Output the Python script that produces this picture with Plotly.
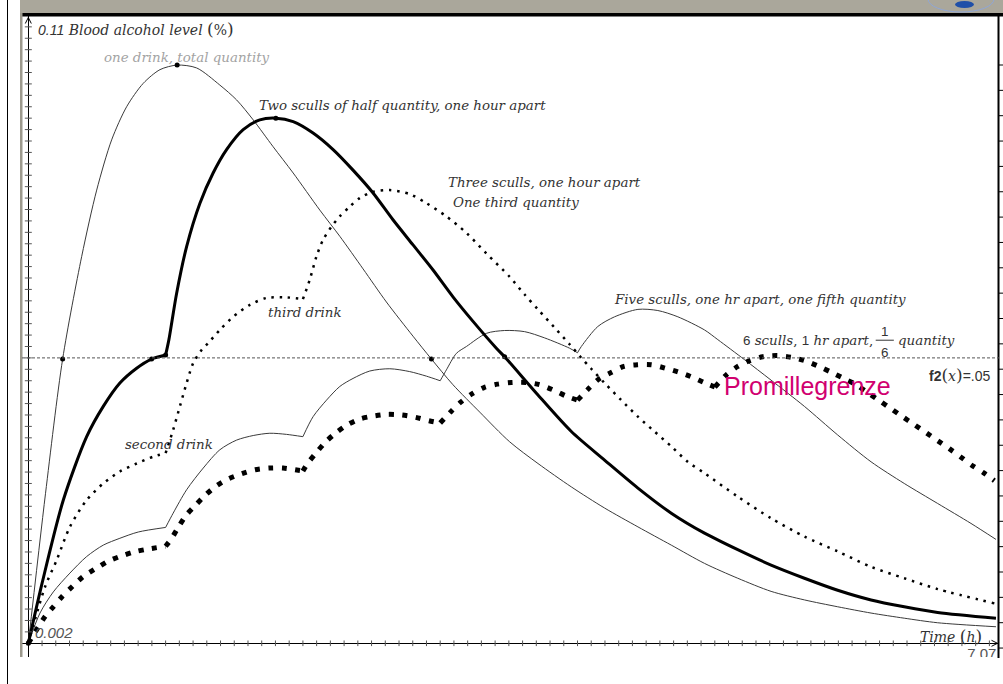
import plotly.graph_objects as go

# Blood alcohol level (%) against time (h) for different drinking patterns
t_one = [0, 0.125, 0.25, 0.389, 0.498, 0.607, 0.716, 0.837, 0.959, 1.084, 1.226,
         1.395, 1.517, 1.638, 1.783, 1.929, 2.123, 2.269, 2.438, 2.608, 2.802,
         2.936, 3.093, 3.288, 3.506, 3.712, 3.955, 4.197, 4.440, 4.683, 4.925,
         5.167, 5.410, 5.653, 5.895, 6.138, 6.380, 6.623, 7.048]
c_one = [0, 0.0262, 0.0498, 0.0678, 0.0794, 0.0882, 0.0940, 0.0981, 0.1005, 0.1013, 0.1008,
         0.0978, 0.0952, 0.0917, 0.0870, 0.0824, 0.0759, 0.0713, 0.0656, 0.0598, 0.0538,
         0.0498, 0.0453, 0.0405, 0.0353, 0.0315, 0.0274, 0.0237, 0.0204, 0.0172, 0.0140,
         0.0114, 0.0091, 0.0076, 0.0064, 0.0053, 0.0044, 0.0036, 0.0029]

t_two = [0, 0.1, 0.255, 0.425, 0.546, 0.667, 0.789, 0.898, 1.0,
         1.024, 1.080, 1.153, 1.250, 1.346, 1.444, 1.565, 1.686, 1.803, 1.929,
         2.074, 2.220, 2.365, 2.511, 2.656, 2.802, 2.948, 3.093, 3.239, 3.409,
         3.469, 3.712, 3.955, 4.197, 4.440, 4.683, 4.925, 5.167, 5.410, 5.653,
         5.895, 6.138, 6.380, 6.623, 7.048]
c_two = [0, 0.0105, 0.0251, 0.0362, 0.0415, 0.0456, 0.0482, 0.0498, 0.0505,
         0.0532, 0.0613, 0.0695, 0.0771, 0.0824, 0.0865, 0.0900, 0.0917, 0.0920, 0.0914,
         0.0894, 0.0865, 0.0829, 0.0789, 0.0742, 0.0698, 0.0654, 0.0607, 0.0564, 0.0517,
         0.0502, 0.0435, 0.0371, 0.0321, 0.0272, 0.0228, 0.0193, 0.0164, 0.0137, 0.0114,
         0.0093, 0.0076, 0.0064, 0.0054, 0.0044]

t_three = [0, 0.122, 0.207, 0.303, 0.425, 0.546, 0.667, 0.789, 0.910, 1.0,
           1.055, 1.104, 1.153, 1.201, 1.262, 1.310, 1.395, 1.492, 1.614, 1.735,
           1.881, 2.0, 2.050, 2.099, 2.147, 2.208, 2.269, 2.341, 2.414, 2.511,
           2.633, 2.778, 2.900, 3.045, 3.191, 3.336, 3.506, 3.615, 3.712, 3.833,
           3.942, 4.028, 4.100, 4.197, 4.319, 4.440, 4.561, 4.683, 4.803, 4.925,
           5.167, 5.410, 5.653, 5.895, 6.138, 6.380, 6.623, 7.036]
c_three = [0, 0.0099, 0.0146, 0.0204, 0.0251, 0.0280, 0.0301, 0.0315, 0.0327, 0.0333,
           0.0374, 0.0415, 0.0456, 0.0491, 0.0514, 0.0526, 0.0549, 0.0572, 0.0593, 0.0605,
           0.0606, 0.0603, 0.0637, 0.0678, 0.0707, 0.0730, 0.0748, 0.0765, 0.0780, 0.0791,
           0.0794, 0.0787, 0.0771, 0.0748, 0.0719, 0.0683, 0.0642, 0.0611, 0.0585, 0.0553,
           0.0524, 0.0500, 0.0481, 0.0456, 0.0426, 0.0397, 0.0371, 0.0345, 0.0318, 0.0298,
           0.0257, 0.0219, 0.0187, 0.0161, 0.0134, 0.0114, 0.0095, 0.0070]

t_five = [0, 0.085, 0.182, 0.303, 0.425, 0.546, 0.667, 0.801, 1.0,
          1.055, 1.153, 1.274, 1.395, 1.517, 1.638, 1.759, 1.881, 2.0,
          2.074, 2.172, 2.269, 2.365, 2.487, 2.633, 2.778, 2.900, 3.0,
          3.045, 3.118, 3.191, 3.336, 3.469, 3.615, 3.761, 3.942, 4.0,
          4.028, 4.148, 4.270, 4.440, 4.585, 4.731, 4.925, 5.022, 5.216, 5.410,
          5.653, 5.895, 6.138, 6.380, 6.623, 6.866, 7.048]
c_five = [0, 0.0053, 0.0090, 0.0123, 0.0152, 0.0172, 0.0184, 0.0195, 0.0203,
          0.0228, 0.0269, 0.0307, 0.0339, 0.0356, 0.0364, 0.0368, 0.0366, 0.0362,
          0.0397, 0.0426, 0.0450, 0.0464, 0.0477, 0.0481, 0.0476, 0.0468, 0.0460,
          0.0479, 0.0508, 0.0520, 0.0543, 0.0548, 0.0546, 0.0535, 0.0517, 0.0509,
          0.0520, 0.0555, 0.0572, 0.0585, 0.0583, 0.0572, 0.0549, 0.0532, 0.0497, 0.0461,
          0.0415, 0.0365, 0.0318, 0.0280, 0.0245, 0.0210, 0.0182]

t_six = [0, 0.122, 0.182, 0.250, 0.323, 0.400, 0.485, 0.575, 0.667, 0.769, 0.869, 1.0,
         1.039, 1.092, 1.148, 1.218, 1.291, 1.371, 1.456, 1.553, 1.650, 1.754, 1.856, 2.0,
         2.031, 2.094, 2.162, 2.237, 2.325, 2.414, 2.511, 2.616, 2.718, 2.820, 2.918, 3.0,
         3.074, 3.147, 3.231, 3.319, 3.416, 3.518, 3.627, 3.724, 3.821, 3.918, 4.0,
         4.076, 4.156, 4.241, 4.338, 4.435, 4.537, 4.639, 4.736, 4.828, 4.920, 5.0,
         5.083, 5.167, 5.252, 5.349, 5.454, 5.556, 5.658, 5.750, 5.847, 5.939, 6.029,
         6.114, 6.199, 6.284, 6.368, 6.453, 6.539, 6.623, 6.708, 6.788, 6.871, 6.956, 7.036]
c_six = [0, 0.0047, 0.0064, 0.0083, 0.0100, 0.0117, 0.0130, 0.0143, 0.0152, 0.0160, 0.0165, 0.0170,
         0.0182, 0.0203, 0.0224, 0.0242, 0.0260, 0.0276, 0.0288, 0.0297, 0.0304, 0.0307, 0.0307, 0.0302,
         0.0314, 0.0333, 0.0352, 0.0368, 0.0383, 0.0393, 0.0398, 0.0401, 0.0400, 0.0396, 0.0390, 0.0386,
         0.0405, 0.0422, 0.0437, 0.0448, 0.0454, 0.0457, 0.0457, 0.0453, 0.0444, 0.0433, 0.0426,
         0.0445, 0.0463, 0.0474, 0.0485, 0.0488, 0.0488, 0.0482, 0.0475, 0.0467, 0.0457, 0.0449,
         0.0470, 0.0485, 0.0495, 0.0502, 0.0504, 0.0501, 0.0495, 0.0486, 0.0475, 0.0464, 0.0453,
         0.0439, 0.0425, 0.0411, 0.0397, 0.0383, 0.0369, 0.0355, 0.0341, 0.0327, 0.0312, 0.0299, 0.0285]

# times of the drinks after the first one (where the curves bend sharply)
drinks_two = [1]
drinks_three = [1, 2]
drinks_five = [1, 2, 3, 4]
drinks_six = [1, 2, 3, 4, 5]

# highlighted points (threshold crossings, peaks, second-drink kink)
t_marked = [0, 0.25, 1.084, 2.936, 0.898, 1.0, 1.803, 3.469]
c_marked = [0, 0.0498, 0.1013, 0.0498, 0.0498, 0.0505, 0.0920, 0.0502]

limit = 0.05
x_min, x_max = -0.046, 7.07
y_min, y_max = -0.0024, 0.1099

SERIF = "DejaVu Serif"
SANS = "Liberation Sans, Arial"
INK = "#333333"

# plot area in page pixels
L, R, T, B = 22, 999, 16, 657
W, H = 1003, 684


def px(x):
    return (x - L) / (R - L)


def py(y):
    return (B - y) / (B - T)


def pieces(ts, cs, breaks):
    """Split a curve at the drink times so each smooth piece keeps its sharp corner."""
    out, cur_t, cur_c = [], [], []
    for t, c in zip(ts, cs):
        cur_t.append(t)
        cur_c.append(c)
        if any(abs(t - b) < 1e-9 for b in breaks):
            out.append((cur_t, cur_c))
            cur_t, cur_c = [t], [c]
    out.append((cur_t, cur_c))
    return out


fig = go.Figure()


def add_curve(ts, cs, breaks, line):
    for seg_t, seg_c in pieces(ts, cs, breaks):
        fig.add_trace(go.Scatter(x=seg_t, y=seg_c, mode="lines",
                                 line=dict(shape="spline", smoothing=0.8, **line)))


thin = dict(color="#3a3a3a", width=1)
add_curve(t_one, c_one, [], thin)
add_curve(t_five, c_five, drinks_five, thin)
add_curve(t_three, c_three, drinks_three, dict(color="black", width=2.5, dash="2.5px,5.8px"))
add_curve(t_six, c_six, drinks_six, dict(color="black", width=5, dash="5px,8.5px"))
add_curve(t_two, c_two, drinks_two, dict(color="black", width=3))
fig.add_trace(go.Scatter(x=t_marked, y=c_marked, mode="markers",
                         marker=dict(color="black", size=5)))

# axis tick marks drawn on the axes themselves
xt = [round(0.1 * k, 2) for k in range(1, 71)]
yt = [round(0.002 * k, 4) for k in range(1, 55)]
fig.add_trace(go.Scatter(x=xt, y=[0] * len(xt), mode="markers",
                         marker=dict(symbol="line-ns", size=4,
                                     line=dict(color="#555", width=1))))
fig.add_trace(go.Scatter(x=[0] * len(yt), y=yt, mode="markers",
                         marker=dict(symbol="line-ew", size=5,
                                     line=dict(color="#555", width=1))))

# x-axis end value, partly cut by the window edge
fig.add_trace(go.Scatter(x=[6.945], y=[-0.0021], mode="text", text=["7.07"],
                         textposition="middle center", cliponaxis=True,
                         textfont=dict(family=SANS, size=15, color="#555")))

shapes = [
    # window chrome
    dict(type="rect", xref="paper", yref="paper", x0=px(20), x1=px(1003), y0=py(13), y1=py(0),
         fillcolor="#aaa79b", line_width=0, layer="above"),
    dict(type="rect", xref="paper", yref="paper", x0=px(22), x1=px(1003), y0=py(16.5), y1=py(13),
         fillcolor="black", line_width=0, layer="above"),
    dict(type="rect", xref="paper", yref="paper", x0=px(20), x1=px(22.5), y0=py(657), y1=py(13),
         fillcolor="#9c998d", line_width=0, layer="above"),
    dict(type="line", xref="paper", yref="paper", x0=px(7.5), x1=px(7.5), y0=py(684), y1=py(0),
         line=dict(color="black", width=1)),
    dict(type="line", xref="paper", yref="paper", x0=px(998.5), x1=px(998.5), y0=py(658), y1=py(13),
         line=dict(color="black", width=2), layer="above"),
    # threshold line
    dict(type="line", xref="x", yref="y", x0=x_min, x1=x_max, y0=limit, y1=limit,
         line=dict(color="#555", width=1, dash="3px,2px")),
    # axis arrowheads
    dict(type="path", xref="paper", yref="paper",
         path=f"M {px(25.3)} {py(23.5)} L {px(28.3)} {py(17.5)} L {px(31.3)} {py(23.5)}",
         line=dict(color="black", width=1)),
    dict(type="path", xref="paper", yref="paper",
         path=f"M {px(991.5)} {py(640.3)} L {px(997.5)} {py(643.3)} L {px(991.5)} {py(646.3)}",
         line=dict(color="black", width=1)),
    # logo fragment at the top right
    dict(type="circle", xref="paper", yref="paper", x0=px(928), x1=px(994), y0=py(12), y1=py(-14),
         line=dict(color="#8fa6d6", width=1), layer="above"),
    dict(type="circle", xref="paper", yref="paper", x0=px(955), x1=px(974), y0=py(8), y1=py(1),
         fillcolor="#1f4fa8", line_width=0, layer="above"),
]
y_tick = 65.0
while y_tick <= 651:
    shapes.append(dict(type="line", xref="paper", yref="paper", x0=px(999), x1=px(1003),
                       y0=py(y_tick), y1=py(y_tick), line=dict(color="black", width=1)))
    y_tick += 25.35

# fraction bar of 1/6
shapes.append(dict(type="line", xref="x", yref="y", x0=6.172, x1=6.304, y0=0.0531, y1=0.0531,
                   line=dict(color=INK, width=1)))


def label(x, y, text, anchor="left", color=INK, size=13.4, family=SERIF):
    return dict(x=x, y=y, xref="x", yref="y", text=text, showarrow=False,
                xanchor=anchor, yanchor="middle",
                font=dict(family=family, size=size, color=color))


def big(ch, size=17):
    return f"<span style='font-size:{size}px'>{ch}</span>"


annotations = [
    label(1.155, 0.1027, "<i>one drink, total quantity</i>", anchor="center", color="#a3a3a3"),
    label(1.663, 0.0942, "<i>Two sculls of half quantity, one hour apart</i>"),
    label(3.040, 0.0808, "<i>Three sculls, one hour apart</i>"),
    label(3.077, 0.0773, "<i>One third quantity</i>"),
    label(1.730, 0.0579, "<i>third drink</i>"),
    label(0.689, 0.0348, "<i>second drink</i>"),
    label(4.248, 0.0602, "<i>Five sculls, one hr apart, one fifth quantity</i>"),
    label(5.194, 0.0530, f"<span style='font-family:{SANS}'>6</span> <i>sculls</i>, "
                         f"<span style='font-family:{SANS}'>1</span> <i>hr apart</i>,"),
    label(6.238, 0.0546, "1", anchor="center", family=SANS),
    label(6.238, 0.0510, "6", anchor="center", family=SANS),
    label(6.322, 0.0530, "<i>quantity</i>"),
    label(7.021, 0.0470, f"<b>f2</b><span style='font-family:{SERIF}'>{big('(')}<i>x</i>{big(')')}</span>=.05",
          anchor="right", family=SANS, size=14),
    label(5.049, 0.0451, "Promillegrenze", color="#d1006f", size=25, family=SANS),
    label(0.056, 0.1077, f"<span style='font-family:{SANS}'><i>0.11</i></span> "
                        f"<i>Blood alcohol level</i> {big('(')}%{big(')')}", size=14),
    label(0.034, 0.0019, "<i>0.002</i>", family=SANS, size=15, color="#555"),
    label(6.963, 0.0012, f"<i>Time</i> {big('(')}<i>h</i>{big(')')}", anchor="right", size=14),
]

fig.update_layout(
    width=W, height=H, autosize=False,
    margin=dict(l=L, r=W - R, t=T, b=H - B, pad=0),
    paper_bgcolor="white", plot_bgcolor="white",
    showlegend=False,
    font=dict(family=SERIF, color=INK),
    xaxis=dict(range=[x_min, x_max], showgrid=False, showticklabels=False, ticks="",
               zeroline=True, zerolinecolor="black", zerolinewidth=1, showline=False),
    yaxis=dict(range=[y_min, y_max], showgrid=False, showticklabels=False, ticks="",
               zeroline=True, zerolinecolor="black", zerolinewidth=1, showline=False),
    shapes=shapes,
    annotations=annotations,
)

fig.write_html("out.html")
